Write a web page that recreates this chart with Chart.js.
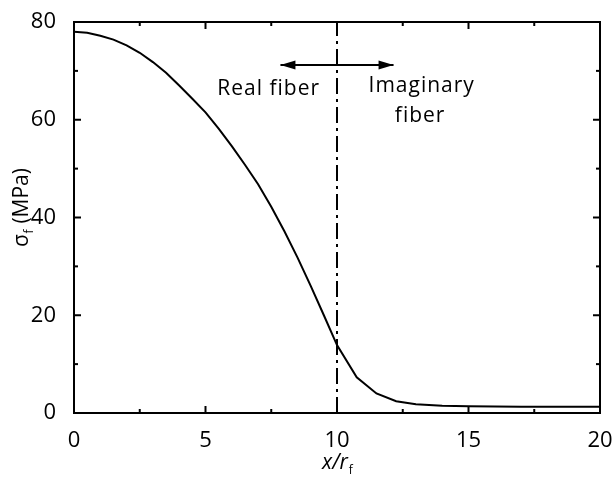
<!DOCTYPE html>
<html>
<head>
<meta charset="utf-8">
<script src="https://cdn.jsdelivr.net/npm/chart.js@4.4.1/dist/chart.umd.min.js"></script>
<style>
  body { margin: 0; background: #fff; }
  canvas { display: block; }
</style>
</head>
<body>
<canvas id="stressChart" width="613" height="480"></canvas>
<script>
// posiciones a lo largo de la fibra (x/rf) y tension
const xPositions = [0, 0.5, 1, 1.5, 2, 2.5, 3, 3.5, 4, 4.5, 5, 5.5, 6, 6.5, 7, 7.5, 8, 8.5, 9, 9.5, 10,
                    10.75, 11.5, 12.25, 13, 14, 15, 16, 17, 18, 19, 20];
const stressValues = [78.0, 77.8, 77.2, 76.4, 75.2, 73.7, 71.8, 69.6, 67.0, 64.3, 61.5, 58.2, 54.6, 50.8, 46.8, 42.2, 37.2, 31.8, 26.0, 20.0, 13.9,
                      7.3, 4.0, 2.4, 1.8, 1.5, 1.4, 1.35, 1.3, 1.3, 1.3, 1.3];

// etiquetas de los ejes
const xTickLabels = [0, 5, 10, 15, 20];
const yTickLabels = [0, 20, 40, 60, 80];

// frontera fibra real / imaginaria
const boundaryX = [10, 10];
const boundaryY = [0, 80];
const arrowX = [7.85, 12.15];
const arrowY = [71.2, 71.2];

const FONT = '"Open Sans", "DejaVu Sans", sans-serif';

function line(ctx, x1, y1, x2, y2) {
    ctx.beginPath();
    ctx.moveTo(x1, y1);
    ctx.lineTo(x2, y2);
    ctx.stroke();
}

// marco, ticks hacia dentro, flechas y textos
const extrasPlugin = {
    id: 'extras',
    afterDatasetsDraw(chart) {
        const { ctx, chartArea: a, scales: { x, y } } = chart;
        ctx.save();
        ctx.strokeStyle = '#000';
        ctx.fillStyle = '#000';
        ctx.lineWidth = 2;
        ctx.strokeRect(a.left, a.top, a.right - a.left, a.bottom - a.top);

        x.ticks.forEach(t => {
            const px = x.getPixelForValue(t.value);
            const len = xTickLabels.includes(t.value) ? 7 : 4;
            line(ctx, px, a.bottom, px, a.bottom - len);
            line(ctx, px, a.top, px, a.top + len);
        });
        y.ticks.forEach(t => {
            const py = y.getPixelForValue(t.value);
            const len = yTickLabels.includes(t.value) ? 7 : 4;
            line(ctx, a.left, py, a.left + len, py);
            line(ctx, a.right, py, a.right - len, py);
        });

        // puntas de la flecha
        const pts = chart.getDatasetMeta(2).data;
        const p0 = pts[0], p1 = pts[pts.length - 1];
        const hl = 15, hw = 4.5;
        ctx.beginPath();
        ctx.moveTo(p0.x, p0.y);
        ctx.lineTo(p0.x + hl, p0.y - hw);
        ctx.lineTo(p0.x + hl, p0.y + hw);
        ctx.closePath();
        ctx.fill();
        ctx.beginPath();
        ctx.moveTo(p1.x, p1.y);
        ctx.lineTo(p1.x - hl, p1.y - hw);
        ctx.lineTo(p1.x - hl, p1.y + hw);
        ctx.closePath();
        ctx.fill();

        // textos
        ctx.font = '21px ' + FONT;
        ctx.letterSpacing = '1px';
        ctx.textAlign = 'center';
        ctx.textBaseline = 'alphabetic';
        ctx.fillText('Real fiber', x.getPixelForValue(7.4), y.getPixelForValue(65.0));
        ctx.fillText('Imaginary', x.getPixelForValue(13.22), y.getPixelForValue(65.6));
        ctx.fillText('fiber', x.getPixelForValue(13.16), y.getPixelForValue(59.5));
        ctx.letterSpacing = '0px';

        // titulo eje x: x/rf
        const cx = (a.left + a.right) / 2;
        ctx.textAlign = 'left';
        ctx.font = 'italic 21px ' + FONT;
        const wMain = ctx.measureText('x/r').width;
        ctx.font = '12px ' + FONT;
        const wSub = ctx.measureText('f').width;
        let sx = cx - (wMain + wSub) / 2;
        ctx.font = 'italic 21px ' + FONT;
        ctx.fillText('x/r', sx, 469);
        ctx.font = '12px ' + FONT;
        ctx.fillText('f', sx + wMain + 1, 474);

        // titulo eje y: σf (MPa)
        ctx.translate(28, 208);
        ctx.rotate(-Math.PI / 2);
        ctx.font = '21px ' + FONT;
        const w1 = ctx.measureText('σ').width;
        const w3 = ctx.measureText(' (MPa)').width;
        ctx.font = '12px ' + FONT;
        const w2 = ctx.measureText('f').width;
        sx = -(w1 + w2 + w3) / 2;
        ctx.font = '21px ' + FONT;
        ctx.fillText('σ', sx, 0);
        ctx.fillText(' (MPa)', sx + w1 + w2 + 1, 0);
        ctx.font = '12px ' + FONT;
        ctx.fillText('f', sx + w1 + 0.5, 5);
        ctx.restore();
    }
};

const ctx = document.getElementById('stressChart').getContext('2d');

new Chart(ctx, {
    type: 'line',
    data: {
        datasets: [
            {
                data: xPositions.map((v, i) => ({ x: v, y: stressValues[i] })),
                borderColor: '#000',
                borderWidth: 2,
                pointRadius: 0,
                tension: 0
            },
            {
                data: boundaryX.map((v, i) => ({ x: v, y: boundaryY[i] })),
                borderColor: '#000',
                borderWidth: 2,
                borderDash: [16, 5, 3, 5],
                pointRadius: 0
            },
            {
                data: arrowX.map((v, i) => ({ x: v, y: arrowY[i] })),
                borderColor: '#000',
                borderWidth: 2,
                pointRadius: 0
            }
        ]
    },
    options: {
        responsive: false,
        animation: false,
        layout: { padding: { top: 22, right: 13, left: 0, bottom: 0 } },
        plugins: {
            legend: { display: false },
            tooltip: { enabled: false }
        },
        scales: {
            x: {
                type: 'linear',
                min: 0,
                max: 20,
                grid: { display: false },
                border: { display: false },
                ticks: {
                    stepSize: 2.5,
                    autoSkip: false,
                    maxRotation: 0,
                    padding: 7,
                    color: '#000',
                    font: { family: FONT, size: 22 },
                    callback: v => xTickLabels.includes(v) ? String(v) : ''
                },
                afterFit: s => {
                    s.height = 67;
                    s.paddingLeft = 0;
                    s.paddingRight = 0; // el "20" se sale del borde como en la figura
                }
            },
            y: {
                min: 0,
                max: 80,
                grid: { display: false },
                border: { display: false },
                ticks: {
                    stepSize: 10,
                    autoSkip: false,
                    padding: 10,
                    color: '#000',
                    font: { family: FONT, size: 22 },
                    callback: v => yTickLabels.includes(v) ? String(v) : ''
                },
                afterFit: s => {
                    s.width = 74;
                    s.paddingTop = 0;
                    s.paddingBottom = 0;
                }
            }
        }
    },
    plugins: [extrasPlugin]
});
</script>
</body>
</html>
